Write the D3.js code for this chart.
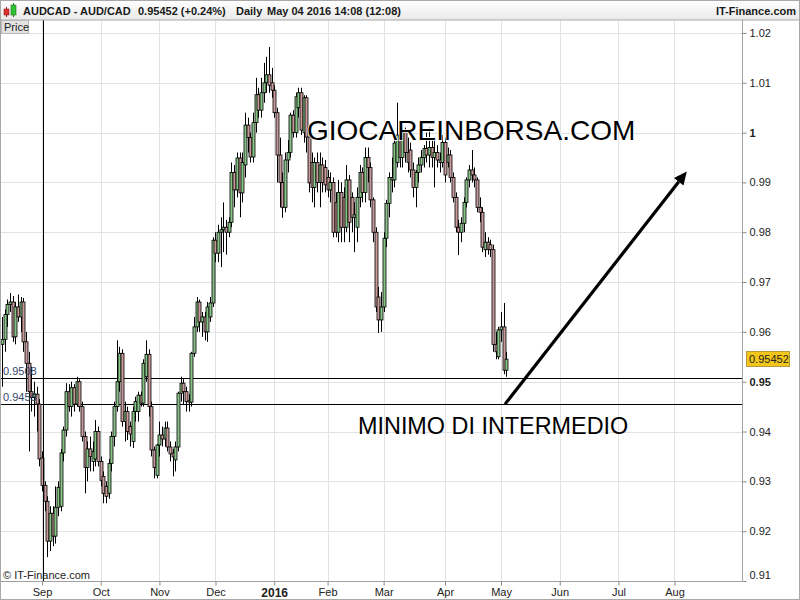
<!DOCTYPE html>
<html><head><meta charset="utf-8">
<script src="https://cdn.jsdelivr.net/npm/d3@7"></script>
<style>body{margin:0;background:#fff}svg{display:block;font-family:"Liberation Sans",Arial,sans-serif}</style>
</head><body><svg id="c" width="800" height="600"></svg>
<script>
// ---------- DATA ----------
const firstDate = "2015-08-11";
const calendarEnd = "2016-09-10";
const holidays = ["2015-12-25", "2016-01-01"];
// daily candles [open, high, low, close], one per trading day from firstDate
const ohlc = [
[.9575,.9630,.9490,.9585],[.9585,.9645,.9560,.9635],[.9635,.9665,.9610,.9655],[.9655,.9678,.9640,.9660],
[.9660,.9672,.9580,.9590],[.9590,.9660,.9575,.9650],[.9650,.9675,.9620,.9630],[.9630,.9670,.9600,.9660],
[.9660,.9668,.9560,.9580],[.9580,.9600,.9480,.9537],[.9537,.9560,.9360,.9480],[.9480,.9530,.9440,.9468],
[.9468,.9500,.9430,.9475],[.9475,.9490,.9400,.9455],[.9455,.9465,.9330,.9345],
[.9347,.9360,.9280,.9292],[.9292,.9300,.9240,.9260],[.9260,.9270,.9148,.9180],[.9180,.9250,.9160,.9236],
[.9236,.9250,.9170,.9190],[.9190,.9290,.9175,.9248],[.9248,.9300,.9230,.9288],[.9250,.9365,.9240,.9357],
[.9357,.9410,.9340,.9403],[.9403,.9497,.9390,.9480],[.9480,.9495,.9440,.9450],[.9450,.9500,.9430,.9488],
[.9488,.9495,.9440,.9455],[.9455,.9510,.9450,.9500],[.9500,.9505,.9440,.9450],[.9450,.9460,.9380,.9390],
[.9390,.9400,.9276,.9328],[.9328,.9380,.9300,.9365],[.9365,.9390,.9320,.9350],[.9340,.9380,.9320,.9360],
[.9345,.9423,.9330,.9400],[.9400,.9410,.9330,.9340],[.9340,.9350,.9290,.9302],[.9310,.9320,.9256,.9276],
[.9290,.9300,.9256,.9270],[.9276,.9345,.9265,.9336],[.9336,.9400,.9320,.9390],[.9390,.9460,.9370,.9450],
[.9450,.9583,.9440,.9500],[.9500,.9570,.9480,.9557],[.9557,.9565,.9410,.9420],[.9420,.9460,.9380,.9440],
[.9440,.9450,.9383,.9400],[.9410,.9420,.9370,.9395],[.9380,.9450,.9367,.9440],[.9440,.9470,.9420,.9460],
[.9440,.9480,.9420,.9473],[.9473,.9480,.9450,.9457],[.9457,.9545,.9450,.9537],[.9510,.9583,.9500,.9555],
[.9555,.9565,.9430,.9450],[.9450,.9460,.9350,.9363],[.9363,.9370,.9306,.9328],[.9312,.9375,.9306,.9373],
[.9373,.9420,.9350,.9393],[.9393,.9410,.9370,.9385],[.9385,.9420,.9370,.9407],[.9407,.9420,.9360,.9369],
[.9369,.9380,.9340,.9355],[.9357,.9365,.9310,.9349],[.9343,.9380,.9320,.9369],[.9369,.9480,.9360,.9477],
[.9477,.9510,.9460,.9497],[.9497,.9505,.9455,.9480],[.9480,.9490,.9440,.9460],[.9462,.9475,.9440,.9459],
[.9459,.9560,.9450,.9557],[.9557,.9630,.9550,.9610],[.9610,.9670,.9600,.9660],[.9660,.9665,.9600,.9620],
[.9620,.9640,.9590,.9630],[.9630,.9640,.9583,.9600],[.9600,.9660,.9580,.9650],[.9630,.9670,.9620,.9658],
[.9658,.9790,.9650,.9784],[.9784,.9800,.9740,.9758],[.9758,.9815,.9740,.9800],[.9800,.9830,.9730,.9805],
[.9805,.9860,.9760,.9810],[.9810,.9825,.9755,.9800],[.9800,.9830,.9790,.9820],[.9820,.9940,.9810,.9920],
[.9920,.9935,.9850,.9885],[.9885,.9960,.9870,.9949],[.9949,.9960,.9830,.9879],[.9879,.9960,.9860,.9940],
[.9935,1.0040,.9910,1.0015],[1.0015,1.0030,.9960,.9990],[.9990,1.0000,.9940,.9951],[.9951,1.0040,.9940,1.0020],
[1.0020,1.0110,1.0000,1.0076],[1.0076,1.0090,1.0030,1.0045],[1.0045,1.0110,1.0030,1.0080],[1.0080,1.0140,1.0060,1.0100],
[1.0100,1.0152,1.0080,1.0116],[1.0116,1.0172,1.0080,1.0095],[1.0100,1.0130,1.0070,1.0085],[1.0085,1.0095,1.0030,1.0040],
[1.0040,1.0050,.9900,.9955],[.9955,.9990,.9850,.9900],[.9900,.9920,.9829,.9850],[.9850,.9960,.9840,.9945],
[.9945,.9985,.9920,.9960],[.9960,1.0040,.9950,1.0035],[1.0035,1.0045,.9990,1.0000],[1.0000,1.0080,.9990,1.0072],
[1.0050,1.0090,1.0030,1.0080],[1.0080,1.0090,.9995,1.0005],[1.0000,1.0075,.9980,1.0070],[1.0070,1.0075,.9960,.9991],
[.9991,1.0000,.9880,.9899],[.9940,.9960,.9860,.9890],[.9890,.9950,.9850,.9940],[.9940,.9960,.9880,.9900],
[.9900,.9960,.9850,.9935],[.9935,.9950,.9880,.9900],[.9930,.9945,.9880,.9895],[.9910,.9925,.9870,.9885],
[.9885,.9920,.9860,.9900],[.9900,.9910,.9790,.9800],[.9860,.9880,.9790,.9800],[.9800,.9905,.9780,.9880],
[.9880,.9900,.9780,.9810],[.9870,.9890,.9780,.9810],[.9810,.9935,.9800,.9905],[.9905,.9915,.9780,.9820],
[.9870,.9880,.9800,.9830],[.9830,.9860,.9760,.9835],[.9810,.9890,.9780,.9870],[.9870,.9935,.9850,.9920],
[.9920,.9930,.9860,.9880],[.9880,.9970,.9860,.9950],[.9950,.9970,.9900,.9930],[.9930,.9940,.9850,.9865],
[.9865,.9870,.9780,.9800],[.9800,.9810,.9640,.9650],[.9670,.9690,.9598,.9624],[.9624,.9680,.9600,.9650],
[.9650,.9800,.9640,.9788],[.9788,.9865,.9770,.9858],[.9858,.9920,.9830,.9910],[.9910,.9950,.9880,.9905],
[.9905,.9990,.9890,.9979],[.9940,1.0060,.9930,.9995],[.9995,1.0020,.9930,.9950],[.9950,1.0010,.9930,1.0000],
[1.0000,1.0010,.9940,.9960],[.9960,.9990,.9920,.9940],[.9965,.9980,.9910,.9925],[.9925,.9940,.9870,.9890],
[.9890,.9925,.9850,.9920],[.9920,.9950,.9900,.9935],[.9935,.9965,.9920,.9950],[.9950,.9975,.9930,.9968],
[.9968,1.0000,.9940,.9955],[.9955,1.0010,.9930,.9970],[.9970,.9985,.9930,.9950],[.9950,.9990,.9890,.9960],
[.9960,.9975,.9930,.9945],[.9945,.9960,.9920,.9940],[.9940,.9995,.9930,.9980],[.9980,.9990,.9900,.9915],
[.9940,.9970,.9930,.9955],[.9955,.9965,.9900,.9910],[.9910,.9920,.9860,.9870],[.9870,.9880,.9800,.9810],
[.9810,.9825,.9754,.9800],[.9800,.9830,.9780,.9818],[.9818,.9870,.9800,.9860],[.9860,.9910,.9850,.9905],
[.9905,.9935,.9890,.9925],[.9925,.9965,.9900,.9915],[.9915,.9930,.9890,.9905],[.9905,.9910,.9840,.9850],
[.9850,.9870,.9820,.9840],[.9840,.9850,.9760,.9770],[.9765,.9800,.9750,.9780],[.9780,.9790,.9755,.9765],
[.9775,.9785,.9750,.9765],[.9765,.9775,.9560,.9575],[.9575,.9600,.9545,.9560],[.9550,.9610,.9545,.9604],
[.9604,.9640,.9580,.9610],[.9610,.9658,.9515,.9523],[.9523,.9560,.9510,.95452]
];
const yTicks = [0.91,0.92,0.93,0.94,0.95,0.96,0.97,0.98,0.99,1.00,1.01,1.02];
const monthTicks = [
 {date:"2015-09-01",label:"Sep"},{date:"2015-10-01",label:"Oct"},{date:"2015-11-01",label:"Nov"},
 {date:"2015-12-01",label:"Dec"},{date:"2016-01-01",label:"2016"},{date:"2016-02-01",label:"Feb"},
 {date:"2016-03-01",label:"Mar"},{date:"2016-04-01",label:"Apr"},{date:"2016-05-01",label:"May"},
 {date:"2016-06-01",label:"Jun"},{date:"2016-07-01",label:"Jul"},{date:"2016-08-01",label:"Aug"}
];
const levels = [{value:0.9508,label:"0.9508"},{value:0.9455,label:"0.9455"}];
const lastPrice = 0.95452;
const cursorDate = "2015-09-01";
const arrowFrom = {date:"2016-05-04", offset:-0.5, value:0.9455};
const arrowTo = {date:"2016-08-05", offset:0.6, value:0.9922};
const headerTexts = ["AUDCAD - AUD/CAD", "0.95452 (+0.24%)", "Daily", "May 04 2016 14:08 (12:08)"];

// ---------- CALENDAR ----------
const fmt = d3.timeFormat("%Y-%m-%d"), parse = d3.timeParse("%Y-%m-%d");
const days = d3.timeDay.range(parse(firstDate), parse(calendarEnd))
  .filter(d => d.getDay() !== 0 && d.getDay() !== 6 && !holidays.includes(fmt(d)));
const dayIdx = s => { const t = parse(s); return days.findIndex(d => d >= t); };

// ---------- LAYOUT ----------
const svg = d3.select("#c");
const W = 800, H = 600, L = 1, R = 742, T = 20, B = 581;
const x = d3.scaleLinear().domain([0, 277.3]).range([2, R]);
const y = d3.scaleLinear().domain([0.91, 1.0226]).range([B, T]);

svg.append("rect").attr("width", W).attr("height", H).attr("fill", "#fff");

const grid = svg.append("g").attr("stroke", "#e2e2e2").attr("stroke-width", 1).attr("shape-rendering", "crispEdges");
yTicks.forEach(v => grid.append("line").attr("x1", L).attr("x2", R).attr("y1", Math.round(y(v)) + 0.5).attr("y2", Math.round(y(v)) + 0.5));
monthTicks.forEach(m => { const xx = Math.round(x(dayIdx(m.date))) + 0.5;
  grid.append("line").attr("x1", xx).attr("x2", xx).attr("y1", T).attr("y2", B); });

// clip
svg.append("clipPath").attr("id", "pc").append("rect").attr("x", L).attr("y", T).attr("width", R - L).attr("height", B - T);
const plot = svg.append("g").attr("clip-path", "url(#pc)");

// level lines
levels.forEach(l => {
  const yy = Math.round(y(l.value)) + 0.5;
  plot.append("line").attr("x1", L).attr("x2", R).attr("y1", yy).attr("y2", yy).attr("stroke", "#000").attr("stroke-width", 1).attr("shape-rendering", "crispEdges");
});

// candles
const cg = plot.append("g");
ohlc.forEach((c, i) => {
  const [o, h, lo, cl] = c;
  const cx = Math.round(x(i));
  cg.append("line").attr("x1", cx + 0.5).attr("x2", cx + 0.5).attr("y1", y(h)).attr("y2", y(lo))
    .attr("stroke", "#000").attr("stroke-width", 1);
  const top = y(Math.max(o, cl)), bot = y(Math.min(o, cl));
  cg.append("rect").attr("x", cx - 1).attr("width", 3).attr("y", top).attr("height", Math.max(1, bot - top))
    .attr("fill", cl >= o ? "#86c486" : "#c89a9a").attr("stroke", "#000").attr("stroke-width", 0.8);
});

// level labels
levels.forEach(l => {
  plot.append("text").attr("x", 3).attr("y", y(l.value) - 3).attr("font-size", 11).attr("fill", "#34456a").text(l.label);
});

// crosshair
const cxh = Math.round(x(dayIdx(cursorDate))) + 1.5;
plot.append("line").attr("x1", cxh).attr("x2", cxh).attr("y1", T).attr("y2", B).attr("stroke", "#000").attr("stroke-width", 1);

// frame
svg.append("rect").attr("x", 0.5).attr("y", 0.5).attr("width", W - 1).attr("height", H - 1).attr("fill", "none").attr("stroke", "#a8a8a8");
svg.append("line").attr("x1", R + 0.5).attr("x2", R + 0.5).attr("y1", T).attr("y2", B).attr("stroke", "#a0a0a0");
svg.append("line").attr("x1", 0).attr("x2", R).attr("y1", B + 0.5).attr("y2", B + 0.5).attr("stroke", "#a0a0a0");

// y axis
const ya = svg.append("g").attr("transform", `translate(${R + 0.5},0)`)
  .call(d3.axisRight(y).tickValues(yTicks).tickSize(4).tickPadding(3)
    .tickFormat(v => String(+v.toFixed(2))));
ya.select(".domain").remove();
ya.selectAll(".tick line").attr("stroke", "#888");
ya.selectAll(".tick text").attr("font-family", "Liberation Sans, Arial, sans-serif").attr("font-size", 11).attr("fill", "#222")
  .attr("font-weight", d => Math.abs(Math.round(d * 100) % 5) === 0 ? "bold" : "normal")
  .attr("dy", d => (y(d) > B - 8 ? -6 : 0) + 3.5 + "px").attr("x", 7);

// last price box
svg.append("rect").attr("x", 746.5).attr("y", Math.round(y(lastPrice)) - 7.5).attr("width", 43).attr("height", 15)
  .attr("fill", "#f3c61a").attr("stroke", "#b49a3c");
svg.append("text").attr("x", 749).attr("y", Math.round(y(lastPrice)) + 4).attr("font-size", 11).attr("fill", "#222").text(lastPrice.toFixed(5));

// x axis
const xa = svg.append("g").attr("transform", `translate(0,${B + 0.5})`)
  .call(d3.axisBottom(x).tickValues(monthTicks.map(m => dayIdx(m.date))).tickSize(4).tickPadding(3)
    .tickFormat((d, i) => monthTicks[i].label));
xa.select(".domain").remove();
xa.selectAll(".tick line").attr("stroke", "#888");
xa.selectAll(".tick text").attr("font-family", "Liberation Sans, Arial, sans-serif").attr("fill", "#222")
  .attr("font-weight", (d, i) => monthTicks[i].label === "2016" ? "bold" : "normal")
  .attr("font-size", (d, i) => monthTicks[i].label === "2016" ? 12 : 11);

svg.append("text").attr("x", 3).attr("y", 579).attr("font-size", 11).attr("fill", "#222").text("© IT-Finance.com");

// header
const defs = svg.append("defs");
const gr = defs.append("linearGradient").attr("id", "hg").attr("x1", 0).attr("x2", 0).attr("y1", 0).attr("y2", 1);
gr.append("stop").attr("offset", 0).attr("stop-color", "#ffffff");
gr.append("stop").attr("offset", 1).attr("stop-color", "#e9e9e9");
svg.append("rect").attr("x", 0.5).attr("y", 0.5).attr("width", W - 1).attr("height", 19.5).attr("fill", "url(#hg)").attr("stroke", "#a8a8a8");
// icon
svg.append("line").attr("x1", 6.5).attr("x2", 6.5).attr("y1", 7).attr("y2", 17).attr("stroke", "#a02020");
svg.append("rect").attr("x", 4).attr("y", 9).attr("width", 5).attr("height", 6).attr("fill", "#e03030").attr("stroke", "#902020").attr("stroke-width", 0.6);
svg.append("line").attr("x1", 13.5).attr("x2", 13.5).attr("y1", 3).attr("y2", 17).attr("stroke", "#208020");
svg.append("rect").attr("x", 11).attr("y", 5).attr("width", 5).attr("height", 10).attr("fill", "#30c030").attr("stroke", "#207020").attr("stroke-width", 0.6);
const hx = [23, 138, 236, 267];
headerTexts.forEach((t, i) => svg.append("text").attr("x", hx[i]).attr("y", 15).attr("font-size", 11).attr("font-weight", "bold").attr("fill", "#1a1a1a").text(t));
svg.append("text").attr("x", 796).attr("y", 15).attr("text-anchor", "end").attr("font-size", 11).attr("font-weight", "bold").attr("fill", "#1a1a1a").text("IT-Finance.com");

// "Price" tag
svg.append("rect").attr("x", 1.5).attr("y", 20.5).attr("width", 27).attr("height", 13).attr("fill", "#e3e3e3").attr("stroke", "#b8b8b8");
svg.append("text").attr("x", 4).attr("y", 31).attr("font-size", 11).attr("fill", "#222").text("Price");

// annotations
const ax1 = x(dayIdx(arrowFrom.date) + arrowFrom.offset), ay1 = y(arrowFrom.value);
const ax2 = x(dayIdx(arrowTo.date) + arrowTo.offset), ay2 = y(arrowTo.value);
const ang = Math.atan2(ay2 - ay1, ax2 - ax1), hl = 13, hw = 6;
const bx = ax2 - hl * Math.cos(ang), by = ay2 - hl * Math.sin(ang);
svg.append("line").attr("x1", ax1).attr("y1", ay1).attr("x2", bx).attr("y2", by).attr("stroke", "#000").attr("stroke-width", 3.2);
svg.append("polygon").attr("points", [
  [ax2, ay2], [bx + hw * Math.sin(ang), by - hw * Math.cos(ang)], [bx - hw * Math.sin(ang), by + hw * Math.cos(ang)]
].map(p => p.join(",")).join(" ")).attr("fill", "#000");

svg.append("text").attr("x", 307).attr("y", 140).attr("font-size", 28).attr("fill", "#000")
  .attr("stroke", "#fff").attr("stroke-width", 1.5).attr("paint-order", "stroke").text("GIOCAREINBORSA.COM");
svg.append("text").attr("x", 358).attr("y", 434).attr("font-size", 23.4).attr("fill", "#000").text("MINIMO DI INTERMEDIO");
</script></body></html>
